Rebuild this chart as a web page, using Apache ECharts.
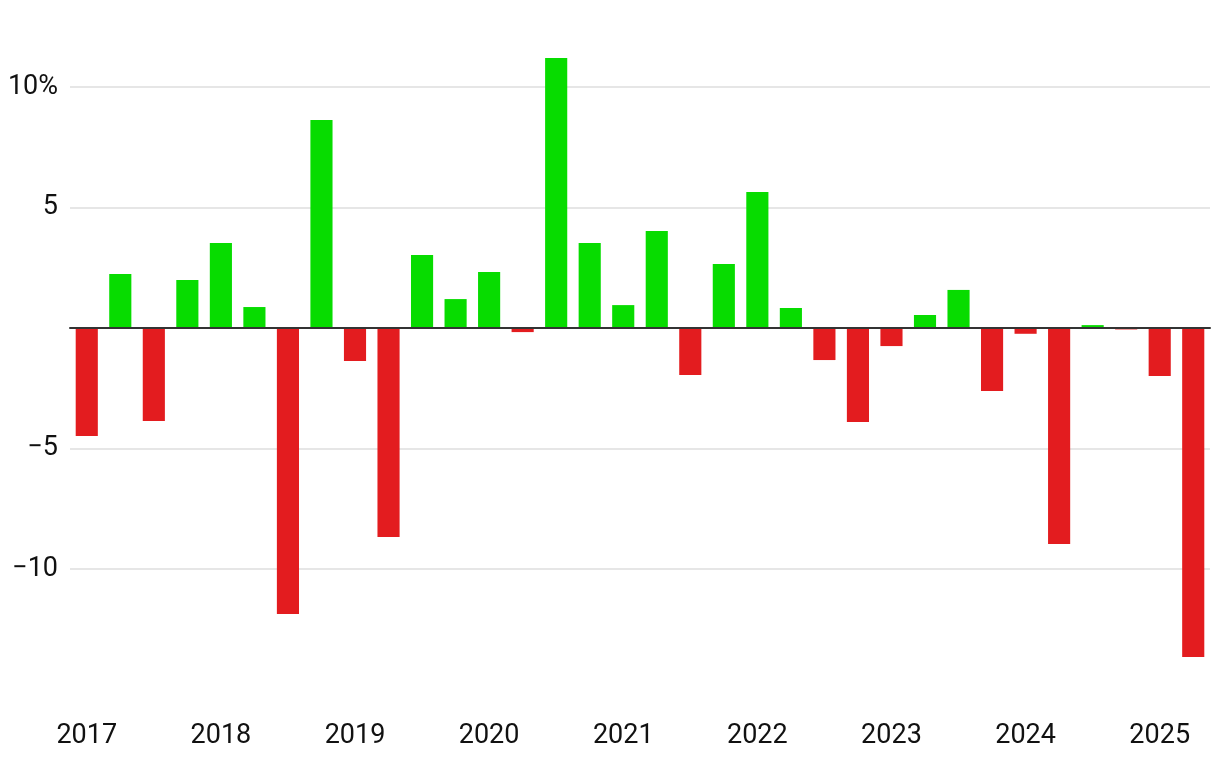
<!DOCTYPE html>
<html>
<head>
<meta charset="utf-8">
<script src="https://cdn.jsdelivr.net/npm/echarts@6/dist/echarts.min.js"></script>
<style>
html,body{margin:0;padding:0;background:#fff;}
#chart{width:1220px;height:774px;}
</style>
</head>
<body>
<div id="chart"></div>
<script>
const quarters = [
  '2017 Q1','2017 Q2','2017 Q3','2017 Q4',
  '2018 Q1','2018 Q2','2018 Q3','2018 Q4',
  '2019 Q1','2019 Q2','2019 Q3','2019 Q4',
  '2020 Q1','2020 Q2','2020 Q3','2020 Q4',
  '2021 Q1','2021 Q2','2021 Q3','2021 Q4',
  '2022 Q1','2022 Q2','2022 Q3','2022 Q4',
  '2023 Q1','2023 Q2','2023 Q3','2023 Q4',
  '2024 Q1','2024 Q2','2024 Q3','2024 Q4',
  '2025 Q1','2025 Q2'
];
const changes = [
  -4.48, 2.24, -3.86, 1.99,
  3.53, 0.87, -11.87, 8.63,
  -1.37, -8.67, 3.03, 1.2,
  2.32, -0.17, 11.2, 3.53,
  0.95, 4.02, -1.95, 2.66,
  5.64, 0.83, -1.33, -3.9,
  -0.75, 0.54, 1.58, -2.61,
  -0.24, -8.96, 0.12, -0.06,
  -1.99, -13.65
];
const yTickLabels = {'10': '10%', '5': '5', '-5': '\u22125', '-10': '\u221210'};
const upColor = '#07dc00';
const downColor = '#e31c1f';

const chart = echarts.init(document.getElementById('chart'), null, {renderer: 'canvas'});
chart.setOption({
  animation: false,
  backgroundColor: '#fff',
  grid: {left: 70, right: 10, top: 38.8, bottom: 84.5, containLabel: false},
  xAxis: {
    type: 'category',
    data: quarters,
    z: 10,
    axisLine: {show: true, onZero: true, lineStyle: {color: '#333', width: 2}},
    axisTick: {show: false},
    axisLabel: {
      interval: 3,
      margin: 33,
      color: '#111',
      fontFamily: 'Roboto',
      fontSize: 27,
      formatter: function (v) { return v.slice(0, 4); }
    },
    splitLine: {show: false}
  },
  yAxis: {
    type: 'value',
    min: -15,
    max: 12,
    interval: 5,
    axisLine: {show: false},
    axisTick: {show: false},
    axisLabel: {
      margin: 12,
      color: '#111',
      fontFamily: 'Roboto',
      fontSize: 27,
      showMinLabel: false,
      showMaxLabel: false,
      formatter: function (v) { return yTickLabels[String(v)] || ''; }
    },
    splitLine: {show: true, showMinLine: false, showMaxLine: false, lineStyle: {color: '#e6e6e6', width: 2}}
  },
  series: [{
    type: 'bar',
    data: changes,
    barCategoryGap: '34%',
    itemStyle: {
      color: function (p) { return p.value >= 0 ? upColor : downColor; }
    }
  }]
});
</script>
</body>
</html>
